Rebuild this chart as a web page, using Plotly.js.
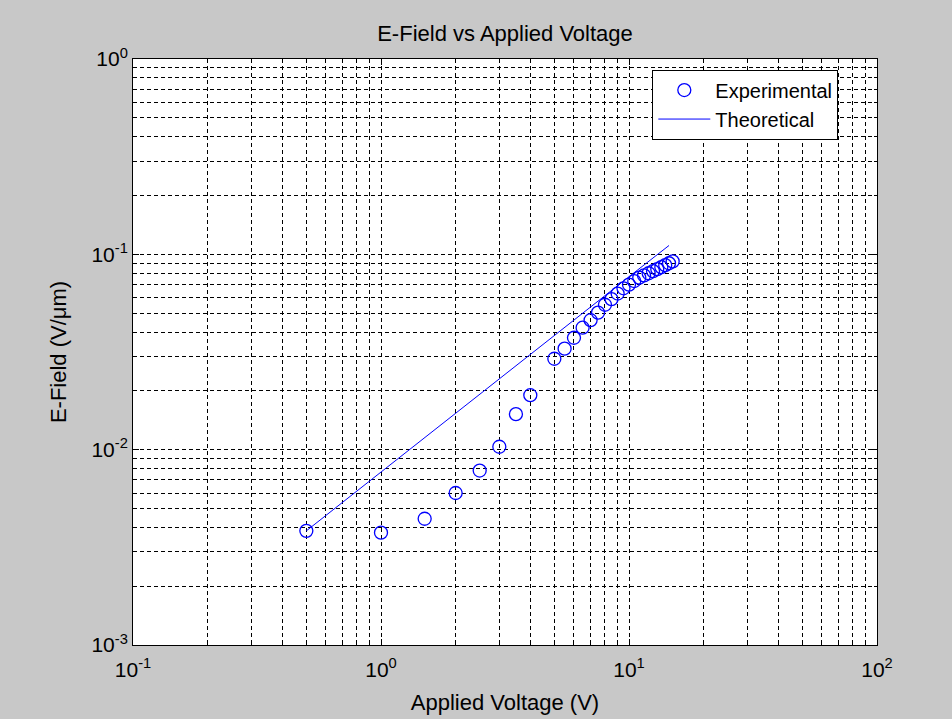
<!DOCTYPE html>
<html>
<head>
<meta charset="utf-8">
<script src="https://cdn.plot.ly/plotly-3.0.1.min.js"></script>
<style>html,body{margin:0;padding:0;background:#c8c8c8;}#chart{width:952px;height:719px;}</style>
</head>
<body>
<div id="chart"></div>
<script>
// Experimental data
const expVoltage = [0.5, 1, 1.5, 2, 2.5, 3, 3.5, 4, 5, 5.5, 6, 6.5, 7, 7.5, 8, 8.5, 9, 9.5, 10, 10.5, 11, 11.5, 12, 12.5, 13, 13.5, 14, 14.5, 15];
const expField   = [0.00384, 0.00376, 0.00443, 0.0060, 0.00782, 0.01035, 0.0152, 0.0190, 0.0292, 0.0329, 0.0374, 0.0421, 0.0460, 0.0503, 0.0552, 0.059, 0.063, 0.067, 0.070, 0.073, 0.076, 0.078, 0.080, 0.082, 0.084, 0.086, 0.088, 0.090, 0.092];
// Theoretical line
const theoVoltage = [0.5, 1, 2, 5, 10, 14.5];
const theoField   = [0.00384, 0.0077, 0.0154, 0.0384, 0.0768, 0.111];
// Tick labels
const xTickVals = [0.1, 1, 10, 100];
const xTickText = ['10<sup>-1</sup>', '10<sup>0</sup>', '10<sup>1</sup>', '10<sup>2</sup>'];
const yTickVals = [0.001, 0.01, 0.1, 1];
const yTickText = ['10<sup>-3</sup>', '10<sup>-2</sup>', '10<sup>-1</sup>', '10<sup>0</sup>'];

// minor (2..9 per decade) tick positions for the log grid
function minorVals(decades) {
  const out = [];
  decades.forEach(function (d) { for (let k = 2; k <= 9; k++) out.push(d * k); });
  return out;
}

const font = 'Liberation Sans, Arial, sans-serif';
const gridDash = '4px,3px';

const traces = [
  {
    x: expVoltage, y: expField, type: 'scatter', mode: 'markers', name: 'Experimental',
    marker: {symbol: 'circle-open', size: 13, color: '#0000ff', line: {width: 1.3, color: '#0000ff'}}
  },
  {
    x: theoVoltage, y: theoField, type: 'scatter', mode: 'lines', name: 'Theoretical',
    line: {color: '#0000ff', width: 1}
  }
];

function axis(extra, minorTicks) {
  return Object.assign({
    type: 'log',
    showline: true, linecolor: '#000', linewidth: 1, mirror: 'ticks',
    ticks: 'inside', ticklen: 6, tickcolor: '#000', tickwidth: 1,
    showgrid: true, gridcolor: '#000', gridwidth: 1, griddash: gridDash,
    zeroline: false,
    tickfont: {family: font, size: 21, color: '#000'},
    tickmode: 'array',
    minor: {tickmode: 'array', tickvals: minorTicks, ticks: 'inside', ticklen: 3, tickcolor: '#000',
            showgrid: true, gridcolor: '#000', gridwidth: 1, griddash: gridDash}
  }, extra);
}

const layout = {
  width: 952, height: 719,
  paper_bgcolor: '#c8c8c8', plot_bgcolor: '#ffffff',
  margin: {l: 133, r: 75, t: 59, b: 74},
  title: {text: 'E-Field vs Applied Voltage', font: {family: font, size: 22, color: '#000'}, xref: 'paper', x: 0.5, xanchor: 'center', y: 0.953, yanchor: 'middle'},
  xaxis: axis({
    range: [-1, 2], tickvals: xTickVals, ticktext: xTickText, ticklabelstandoff: 6,
    title: {text: 'Applied Voltage (V)', font: {family: font, size: 22, color: '#000'}, standoff: 14}
  }, minorVals([0.1, 1, 10])),
  yaxis: axis({
    range: [-3, 0], tickvals: yTickVals, ticktext: yTickText,
    title: {text: 'E-Field (V/μm)', font: {family: font, size: 22, color: '#000'}, standoff: 18}
  }, minorVals([0.001, 0.01, 0.1])),
  showlegend: true,
  legend: {
    x: 0.698, y: 0.982, xanchor: 'left', yanchor: 'top',
    bgcolor: '#ffffff', bordercolor: '#000', borderwidth: 1,
    font: {family: font, size: 20, color: '#000'},
    itemwidth: 52, tracegroupgap: 0,
    entrywidthmode: 'pixels', entrywidth: 220
  }
};

Plotly.newPlot('chart', traces, layout, {displayModeBar: false, staticPlot: true});
</script>
</body>
</html>
